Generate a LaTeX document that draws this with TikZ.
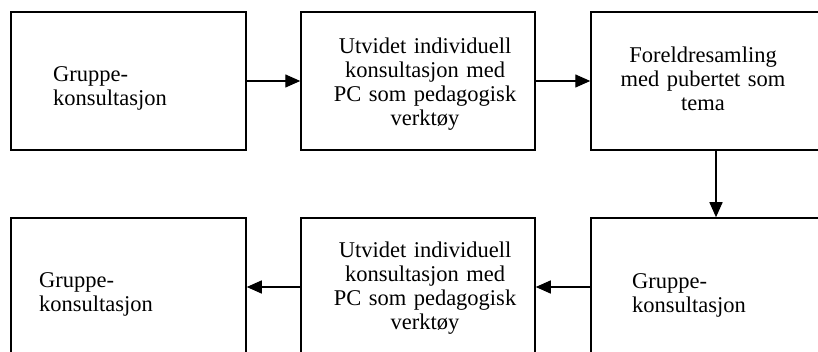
\documentclass[tikz,border=0pt]{standalone}
\usepackage{fontspec}
\setmainfont{Liberation Serif}
\usetikzlibrary{arrows.meta}

\begin{document}
\begin{tikzpicture}[x=1pt,y=1pt]

      \useasboundingbox[fill=white] (0,0) rectangle (818,352);

      \begin{scope}[every node/.style={draw, line width=1.5pt, minimum height=138pt, inner sep=0pt}]
        \node[minimum width=235pt] (1) at (128.5,271) {};
        \node[minimum width=234pt] (2) at (418,271)   {};
        \node[minimum width=250pt] (3) at (716,271)   {};
        \node[minimum width=250pt] (4) at (716,65)    {};
        \node[minimum width=234pt] (5) at (418,65)    {};
        \node[minimum width=235pt] (6) at (128.5,65)  {};
      \end{scope}

      \begin{scope}[every node/.style={inner sep=0pt, font=\fontsize{22.5}{24}\selectfont}]
        \node[anchor=base west, text width=150pt, align=left]   (1t) at (53,270)  {Gruppe-\\konsultasjon};
        \node[anchor=base, text width=195pt, align=center]      (2t) at (425,298) {Utvidet individuell\\konsultasjon med\\PC som pedagogisk\\verktøy};
        \node[anchor=base, text width=180pt, align=center]      (3t) at (703,289) {Foreldresamling\\med pubertet som\\tema};
        \node[anchor=base west, text width=150pt, align=left]   (4t) at (632,63)  {Gruppe-\\konsultasjon};
        \node[anchor=base, text width=195pt, align=center]      (5t) at (425,94)  {Utvidet individuell\\konsultasjon med\\PC som pedagogisk\\verktøy};
        \node[anchor=base west, text width=150pt, align=left]   (6t) at (39,64)   {Gruppe-\\konsultasjon};
      \end{scope}

      \begin{scope}[every edge/.style={draw, line width=1.4pt, -{Triangle[length=15pt,width=13pt]}}]
        \path (1) edge (2);
        \path (2) edge (3);
        \path (3) edge (4);
        \path (4) edge (5);
        \path (5) edge (6);
      \end{scope}

    \end{tikzpicture}
\end{document}
